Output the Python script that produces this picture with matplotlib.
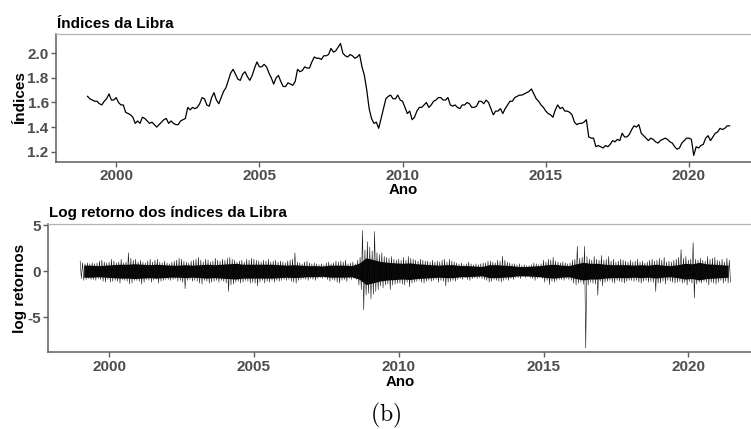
import numpy as np
import matplotlib.pyplot as plt

plt.rcParams['font.family'] = ['Liberation Sans', 'DejaVu Sans']
plt.rcParams['axes.unicode_minus'] = False
plt.rcParams['mathtext.fontset'] = 'cm'

# indice mensal da libra (GBP/USD), jan/1999 ate jun/2021
libra = [
    1.65, 1.63, 1.62, 1.61, 1.61, 1.59, 1.58, 1.61, 1.63, 1.67, 1.62, 1.62,  # 1999
    1.64, 1.60, 1.58, 1.58, 1.52, 1.51, 1.50, 1.48, 1.43, 1.45, 1.43, 1.48,  # 2000
    1.47, 1.45, 1.43, 1.44, 1.42, 1.40, 1.42, 1.44, 1.46, 1.47, 1.43, 1.45,  # 2001
    1.43, 1.42, 1.42, 1.45, 1.46, 1.47, 1.56, 1.54, 1.56, 1.55, 1.56, 1.59,  # 2002
    1.64, 1.63, 1.58, 1.57, 1.64, 1.68, 1.62, 1.59, 1.64, 1.69, 1.72, 1.78,  # 2003
    1.84, 1.87, 1.83, 1.79, 1.78, 1.83, 1.85, 1.81, 1.78, 1.82, 1.88, 1.93,  # 2004
    1.89, 1.89, 1.91, 1.89, 1.84, 1.80, 1.75, 1.80, 1.82, 1.77, 1.73, 1.73,  # 2005
    1.76, 1.75, 1.74, 1.77, 1.87, 1.85, 1.86, 1.89, 1.88, 1.88, 1.93, 1.97,  # 2006
    1.96, 1.96, 1.95, 1.98, 1.98, 1.99, 2.04, 2.01, 2.02, 2.05, 2.08, 2.00,  # 2007
    1.98, 1.97, 1.99, 1.98, 1.96, 1.97, 1.99, 1.89, 1.82, 1.70, 1.55, 1.47,  # 2008
    1.43, 1.44, 1.39, 1.47, 1.55, 1.63, 1.65, 1.66, 1.63, 1.63, 1.66, 1.62,  # 2009
    1.61, 1.56, 1.51, 1.53, 1.46, 1.48, 1.53, 1.56, 1.56, 1.58, 1.60, 1.56,  # 2010
    1.58, 1.61, 1.62, 1.64, 1.64, 1.62, 1.62, 1.64, 1.58, 1.57, 1.58, 1.56,  # 2011
    1.55, 1.58, 1.58, 1.60, 1.59, 1.56, 1.56, 1.57, 1.61, 1.61, 1.59, 1.62,  # 2012
    1.60, 1.55, 1.50, 1.53, 1.53, 1.55, 1.51, 1.55, 1.58, 1.61, 1.61, 1.64,  # 2013
    1.65, 1.66, 1.66, 1.67, 1.68, 1.69, 1.71, 1.67, 1.63, 1.61, 1.58, 1.56,  # 2014
    1.53, 1.51, 1.50, 1.48, 1.54, 1.58, 1.55, 1.56, 1.53, 1.53, 1.52, 1.50,  # 2015
    1.44, 1.42, 1.43, 1.43, 1.44, 1.46, 1.32, 1.31, 1.31, 1.24, 1.25, 1.24,  # 2016
    1.23, 1.25, 1.24, 1.26, 1.29, 1.28, 1.30, 1.29, 1.35, 1.32, 1.32, 1.34,  # 2017
    1.38, 1.41, 1.40, 1.42, 1.35, 1.33, 1.31, 1.29, 1.31, 1.30, 1.28, 1.27,  # 2018
    1.29, 1.30, 1.31, 1.30, 1.28, 1.27, 1.24, 1.22, 1.23, 1.27, 1.29, 1.31,  # 2019
    1.31, 1.30, 1.17, 1.24, 1.23, 1.25, 1.26, 1.31, 1.33, 1.29, 1.32, 1.35,  # 2020
    1.36, 1.39, 1.38, 1.39, 1.41, 1.41,                                      # 2021
]

# maior e menor log retorno diario (%) de cada mes
ret_max = [
    1.1, 0.9, 0.8, 0.9, 0.8, 0.9, 0.8, 0.9, 1.1, 1.2, 1.0, 0.9,
    1.0, 1.3, 1.1, 0.9, 1.0, 1.3, 0.9, 1.0, 2.0, 1.4, 1.2, 1.3,
    1.0, 1.2, 1.0, 0.9, 1.1, 1.3, 1.0, 1.2, 1.3, 1.0, 0.9, 1.1,
    0.9, 0.8, 1.0, 1.1, 1.2, 1.4, 1.3, 1.1, 1.0, 0.9, 1.1, 1.2,
    1.3, 1.5, 1.2, 1.0, 1.3, 1.2, 1.0, 1.1, 1.4, 1.2, 1.1, 1.3,
    1.2, 1.4, 1.5, 1.3, 1.2, 1.0, 1.1, 1.2, 1.0, 1.3, 1.2, 1.4,
    1.3, 1.2, 1.1, 1.0, 1.2, 1.1, 1.3, 1.0, 1.1, 1.2, 1.0, 1.1,
    1.0, 0.9, 1.1, 1.2, 1.3, 2.0, 1.0, 0.9, 0.8, 1.0, 1.1, 0.9,
    0.8, 0.9, 0.8, 0.7, 0.8, 0.7, 0.9, 1.0, 0.8, 0.9, 1.1, 1.0,
    1.1, 1.0, 1.2, 0.8, 0.9, 1.0, 0.8, 1.2, 1.5, 4.4, 2.3, 3.2,
    2.6, 2.2, 4.3, 2.0, 1.8, 2.0, 1.6, 1.5, 1.4, 1.6, 1.3, 1.2,
    1.3, 1.2, 1.5, 1.2, 1.6, 1.4, 1.3, 1.2, 1.1, 1.3, 1.2, 1.1,
    1.1, 1.0, 1.2, 1.0, 1.1, 1.0, 1.2, 1.3, 1.0, 1.3, 1.1, 1.0,
    0.9, 0.8, 0.9, 0.7, 0.8, 1.0, 0.8, 0.7, 0.8, 0.7, 0.8, 0.9,
    0.9, 1.1, 1.1, 1.0, 0.9, 1.2, 1.1, 1.6, 1.2, 1.0, 0.9, 0.8,
    0.8, 0.7, 0.8, 0.6, 0.7, 0.6, 0.6, 0.7, 0.9, 0.8, 0.7, 0.8,
    1.2, 1.0, 1.3, 1.2, 1.5, 1.1, 1.0, 0.9, 1.0, 0.9, 0.8, 0.9,
    1.2, 1.3, 2.7, 1.4, 1.5, 2.7, 1.6, 1.3, 1.2, 1.6, 1.3, 1.2,
    1.7, 1.2, 1.3, 1.6, 1.1, 1.3, 1.0, 1.1, 1.3, 1.2, 1.1, 1.0,
    1.2, 1.0, 1.1, 1.3, 1.0, 1.1, 0.9, 1.0, 1.2, 1.3, 1.1, 1.2,
    1.4, 1.2, 1.5, 1.0, 1.1, 1.0, 1.2, 1.3, 1.5, 2.35, 1.4, 1.6,
    1.2, 1.3, 3.1, 1.3, 1.2, 1.4, 1.2, 1.1, 1.6, 1.3, 1.4, 1.5,
    1.2, 1.1, 1.3, 1.0, 1.4, 1.2,
]
ret_min = [
    -0.8, -1.0, -0.9, -0.8, -0.9, -0.9, -1.0, -0.8, -0.9, -1.1, -1.2, -0.9,
    -1.2, -1.1, -1.0, -1.1, -1.3, -0.9, -1.0, -1.1, -1.4, -1.3, -1.0, -1.0,
    -1.1, -1.4, -1.2, -0.9, -1.0, -1.2, -1.0, -0.9, -1.3, -1.1, -1.0, -0.9,
    -0.9, -1.0, -0.9, -0.8, -1.1, -1.0, -1.2, -1.9, -1.0, -0.9, -1.1, -1.0,
    -1.1, -1.3, -1.4, -1.0, -1.1, -1.3, -1.2, -1.1, -1.0, -1.2, -1.0, -1.1,
    -1.3, -2.2, -1.5, -1.4, -1.2, -1.1, -1.3, -1.2, -1.0, -1.1, -1.3, -1.2,
    -1.3, -1.6, -1.2, -1.0, -1.3, -1.1, -1.2, -1.0, -1.2, -1.0, -1.1, -1.0,
    -0.9, -1.0, -0.9, -1.1, -1.2, -1.3, -1.0, -0.9, -0.8, -0.9, -1.0, -0.8,
    -0.9, -1.0, -0.8, -0.7, -0.8, -0.7, -0.9, -1.1, -0.9, -1.0, -1.2, -1.3,
    -1.0, -0.9, -1.1, -0.8, -0.9, -0.8, -0.9, -1.5, -2.0, -4.2, -2.6, -2.4,
    -3.0, -2.5, -2.2, -2.0, -1.6, -1.8, -1.5, -1.4, -2.0, -1.5, -1.4, -1.3,
    -1.3, -1.4, -1.5, -1.2, -1.7, -1.3, -1.2, -1.1, -1.0, -1.2, -1.3, -1.1,
    -1.0, -1.1, -1.0, -0.9, -1.2, -1.0, -1.1, -1.6, -1.2, -1.1, -1.0, -1.1,
    -0.9, -0.8, -0.9, -0.7, -0.9, -1.0, -0.8, -0.7, -0.8, -0.7, -0.8, -0.9,
    -1.0, -1.2, -1.1, -0.9, -1.0, -1.1, -1.2, -1.0, -0.9, -1.0, -0.8, -0.9,
    -0.7, -0.7, -0.8, -0.6, -0.7, -0.6, -0.7, -0.8, -1.0, -0.8, -0.7, -0.8,
    -1.2, -1.0, -1.45, -1.1, -1.2, -1.0, -0.9, -0.9, -1.0, -0.8, -0.9, -1.0,
    -1.3, -1.5, -1.3, -1.2, -1.4, -8.3, -1.5, -1.2, -1.3, -1.4, -2.6, -1.1,
    -1.6, -1.2, -1.1, -1.0, -1.2, -1.3, -1.0, -1.1, -1.2, -1.3, -1.1, -1.0,
    -1.0, -1.1, -1.0, -1.2, -1.3, -1.1, -1.0, -1.2, -1.1, -1.2, -2.2, -1.3,
    -1.3, -1.1, -1.4, -1.0, -1.1, -1.2, -1.3, -1.2, -1.1, -1.3, -1.2, -1.5,
    -1.1, -1.3, -2.9, -1.4, -1.2, -1.3, -1.1, -1.2, -1.5, -1.2, -1.3, -1.4,
    -1.2, -1.0, -1.3, -1.1, -1.3, -1.2,
]
# faixa densa (meia amplitude) dos retornos em cada trimestre
ret_core = [
    0.65, 0.65, 0.60, 0.65,  0.70, 0.75, 0.75, 0.80,  0.75, 0.70, 0.75, 0.70,
    0.65, 0.65, 0.70, 0.65,  0.70, 0.75, 0.70, 0.75,  0.80, 0.85, 0.75, 0.75,
    0.75, 0.75, 0.75, 0.70,  0.65, 0.70, 0.65, 0.60,  0.60, 0.55, 0.65, 0.65,
    0.65, 0.60, 0.85, 1.45,  1.25, 1.05, 0.95, 0.90,  0.85, 0.90, 0.80, 0.75,
    0.70, 0.65, 0.70, 0.70,  0.60, 0.60, 0.55, 0.50,  0.70, 0.70, 0.65, 0.60,
    0.50, 0.50, 0.55, 0.60,  0.70, 0.75, 0.65, 0.60,  0.80, 0.95, 0.85, 0.85,
    0.75, 0.70, 0.70, 0.70,  0.65, 0.70, 0.65, 0.75,  0.65, 0.60, 0.70, 0.85,
    0.80, 0.95, 0.80, 0.75,  0.70, 0.65,
]

anos = [2000, 2005, 2010, 2015, 2020]
ind_ticks = [1.2, 1.4, 1.6, 1.8, 2.0]
ret_ticks = [-5, 0, 5]

t = 1999 + np.arange(len(libra)) / 12

# zigue-zague entre max e min de cada mes
tz = np.empty(2 * len(ret_max))
tz[0::2] = 1999 + np.arange(len(ret_max)) / 12
tz[1::2] = tz[0::2] + 1 / 24
rz = np.empty(2 * len(ret_max))
rz[0::2] = ret_max
rz[1::2] = ret_min
tq = 1999 + (np.arange(len(ret_core)) + 0.5) / 4
core = np.array(ret_core)

fig = plt.figure(figsize=(7.51, 4.29), dpi=100)
W, H = 751, 429
ax1 = fig.add_axes([56 / W, 1 - 162 / H, 1 - 56 / W, 128 / H])
ax2 = fig.add_axes([48.3 / W, 1 - 352.3 / H, 1 - 48.3 / W, 128 / H])

ax1.plot(t, libra, color='black', lw=0.9)
ax1.set_ylim(1.116, 2.157)
ax1.set_yticks(ind_ticks)
ax1.set_yticklabels([f'{v:.1f}' for v in ind_ticks])

ax2.fill_between(tq, -core, core, color='black', lw=0)
ax2.plot(tz, rz, color='#111111', lw=0.4)
ax2.set_ylim(-8.79, 5.08)
ax2.set_yticks(ret_ticks)
ax2.set_yticklabels([str(v) for v in ret_ticks])

for ax in (ax1, ax2):
    ax.set_xlim(1997.9, 2022.165)
    ax.set_xticks(anos)
    ax.set_xticklabels([str(a) for a in anos])
    ax.spines['right'].set_visible(False)
    ax.spines['top'].set_color('#b3b3b3')
    ax.spines['top'].set_linewidth(0.9)
    for s in ('left', 'bottom'):
        ax.spines[s].set_color('#5e5e5e')
        ax.spines[s].set_linewidth(1.1)
    ax.tick_params(colors='#5e5e5e', length=3.5, width=1.0, pad=1.8,
                   labelcolor='#4d4d4d', labelsize=11)
    for lab in ax.get_xticklabels() + ax.get_yticklabels():
        lab.set_fontweight('bold')

bold = dict(fontweight='bold', color='black')
fig.text(57 / W, 1 - 28 / H, 'Índices da Libra', fontsize=11, ha='left', va='baseline', **bold)
fig.text(49 / W, 1 - 217.5 / H, 'Log retorno dos índices da Libra', fontsize=11,
         ha='left', va='baseline', **bold)
fig.text(20.5 / W, 1 - 98 / H, 'Índices', rotation=90, fontsize=11, ha='center', va='center', **bold)
fig.text(20 / W, 1 - 288 / H, 'log retornos', rotation=90, fontsize=11, ha='center', va='center', **bold)
fig.text(403.5 / W, 1 - 190.5 / H, 'Ano', fontsize=10.8, ha='center', va='center', **bold)
fig.text(400 / W, 1 - 381.5 / H, 'Ano', fontsize=10.8, ha='center', va='center', **bold)
fig.text(386 / W, 1 - 415 / H, r'$\mathrm{(b)}$', fontsize=17, ha='center', va='center')

fig.savefig('out.png', dpi=100)
